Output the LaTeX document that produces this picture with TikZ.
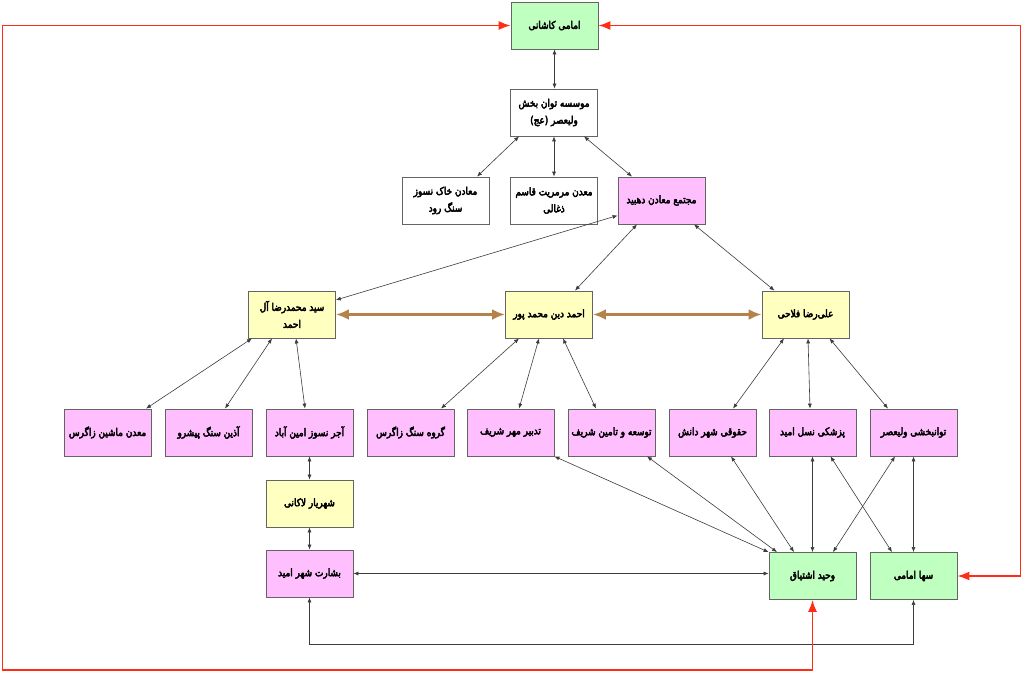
\documentclass[tikz,border=0pt]{standalone}
\usepackage{fontspec}
\usetikzlibrary{arrows.meta}
\TeXXeTstate=1
\newfontfamily\arabicfont[Script=Arabic, FakeBold=4, FakeStretch=0.85]{DejaVu Sans}
\newcommand{\FaTxt}[1]{\beginR #1\endR}
\definecolor{bxgreen}{RGB}{191,255,191}
\definecolor{bxpink}{RGB}{255,191,255}
\definecolor{bxyellow}{RGB}{255,255,191}
\definecolor{bxborder}{RGB}{100,100,100}
\definecolor{lnk}{RGB}{60,60,60}
\definecolor{brownarr}{RGB}{181,131,74}
\definecolor{redarr}{RGB}{255,45,20}
\begin{document}
\begin{tikzpicture}[x=1pt,y=-1pt,
  box/.style={draw=bxborder, line width=0.8pt, minimum width=87pt, minimum height=47pt,
    inner sep=1pt, font=\arabicfont\fontsize{10.5}{17}\selectfont},
  twoline/.style={box, align=center},
  lk/.style={draw=lnk, line width=0.6pt, {Latex[length=5pt,width=4pt]}-{Latex[length=5pt,width=4pt]}},
  tiebrown/.style={draw=brownarr, line width=3pt, {Latex[length=13pt,width=11pt]}-{Latex[length=13pt,width=11pt]}},
  redlk/.style={draw=redarr, line width=1.6pt, {Latex[length=12pt,width=9pt]}-{Latex[length=12pt,width=9pt]}}]
\fill[white] (0,0) rectangle (1024,677);
\useasboundingbox (0,0) rectangle (1024,677);

\node[box, fill=bxgreen] (imam) at (554.5,25.5) {\FaTxt{امامی کاشانی}};
\node[twoline, fill=white] (mov) at (554,112.5) {\FaTxt{موسسه توان بخش}\\\FaTxt{ولیعصر (عج)}};
\node[twoline, fill=white] (khak) at (445.5,200.5) {\FaTxt{معادن خاک نسوز}\\\FaTxt{سنگ رود}};
\node[twoline, fill=white] (marmar) at (554,200.5) {\FaTxt{معدن مرمریت قاسم}\\\FaTxt{ذغالی}};
\node[box, fill=bxpink] (moj) at (661.5,200.5) {\FaTxt{مجتمع معادن دهبید}};

\node[twoline, fill=bxyellow] (seyed) at (292,314.5) {\FaTxt{سید محمدرضا آل}\\\FaTxt{احمد}};
\node[box, fill=bxyellow] (ahmad) at (549,314.5) {\FaTxt{احمد دین محمد پور}};
\node[box, fill=bxyellow] (ali) at (805.5,314.5) {\FaTxt{علی‌رضا فلاحی}};

\node[box, fill=bxpink] (mashin) at (107.5,432.5) {\FaTxt{معدن ماشین زاگرس}};
\node[box, fill=bxpink] (azin) at (208.5,432.5) {\FaTxt{آذین سنگ پیشرو}};
\node[box, fill=bxpink] (ajor) at (309.5,432.5) {\FaTxt{آجر نسوز امین آباد}};
\node[box, fill=bxpink] (gorooh) at (410.5,432.5) {\FaTxt{گروه سنگ زاگرس}};
\node[box, fill=bxpink] (tadbir) at (510.5,432.5) {\FaTxt{تدبیر مهر شریف}};
\node[box, fill=bxpink] (toseeh) at (611.5,432.5) {\FaTxt{توسعه و تامین شریف}};
\node[box, fill=bxpink] (hogh) at (712.5,432.5) {\FaTxt{حقوقی شهر دانش}};
\node[box, fill=bxpink] (pezesh) at (812.5,432.5) {\FaTxt{پزشکی نسل امید}};
\node[box, fill=bxpink] (tavan) at (913.5,432.5) {\FaTxt{توانبخشی ولیعصر}};

\node[box, fill=bxyellow] (shahr) at (309.5,503.5) {\FaTxt{شهریار لاکانی}};
\node[box, fill=bxpink] (besh) at (309.5,573.5) {\FaTxt{بشارت شهر امید}};
\node[box, fill=bxgreen] (vahid) at (812.5,576) {\FaTxt{وحید اشتیاق}};
\node[box, fill=bxgreen] (soha) at (913.5,576) {\FaTxt{سها امامی}};

% top part
\draw[lk] (imam.south) -- (imam.south |- mov.north);
\draw[lk] ([xshift=-35pt]mov.south) -- ([xshift=31.5pt]khak.north);
\draw[lk] (mov.south) -- (marmar.north);
\draw[lk] ([xshift=30pt]mov.south) -- ([xshift=-29.5pt]moj.north);
\draw[lk] ([yshift=-15pt]moj.west) -- ([yshift=14.5pt]seyed.east);
\draw[lk] ([xshift=-24.5pt]moj.south) -- ([xshift=26pt]ahmad.north);
\draw[lk] ([xshift=32.5pt]moj.south) -- ([xshift=-31pt]ali.north);

% brown ties
\draw[tiebrown] (seyed.east) -- (ahmad.west);
\draw[tiebrown] (ahmad.east) -- (ali.west);

% row 3 to row 4
\draw[lk] ([xshift=-40pt]seyed.south) -- ([xshift=38.5pt]mashin.north);
\draw[lk] ([xshift=-20pt]seyed.south) -- ([xshift=16.5pt]azin.north);
\draw[lk] ([xshift=4pt]seyed.south) -- ([xshift=-4.5pt]ajor.north);
\draw[lk] ([xshift=-30pt]ahmad.south) -- ([xshift=30.5pt]gorooh.north);
\draw[lk] ([xshift=-10pt]ahmad.south) -- ([xshift=8.5pt]tadbir.north);
\draw[lk] ([xshift=14pt]ahmad.south) -- ([xshift=-15.5pt]toseeh.north);
\draw[lk] ([xshift=-21.5pt]ali.south) -- ([xshift=20.5pt]hogh.north);
\draw[lk] ([xshift=2.5pt]ali.south) -- ([xshift=-2.5pt]pezesh.north);
\draw[lk] ([xshift=24pt]ali.south) -- ([xshift=-25.5pt]tavan.north);

% left chain
\draw[lk] (ajor.south) -- (shahr.north);
\draw[lk] (shahr.south) -- (besh.north);
\draw[lk] (besh.east) -- (vahid.west |- besh.east);

% into vahid and soha
\draw[lk] (tadbir.south east) -- (vahid.north west);
\draw[lk] ([xshift=35.5pt]toseeh.south) -- ([xshift=-35.5pt]vahid.north);
\draw[lk] ([xshift=18.5pt]hogh.south) -- ([xshift=-18.5pt]vahid.north);
\draw[lk] (pezesh.south) -- (vahid.north);
\draw[lk] ([xshift=-18.5pt]tavan.south) -- ([xshift=20.5pt]vahid.north);
\draw[lk] ([xshift=18pt]pezesh.south) -- ([xshift=-21.5pt]soha.north);
\draw[lk] (tavan.south) -- (soha.north);

% bottom return line
\draw[lk] (besh.south) -- (besh.south |- 0,644) -| (soha.south);

% red loops
\draw[redlk] (imam.west) -- (2.5,25.5) -- (2.5,670) -| (vahid.south);
\draw[redlk] (imam.east) -- (1020.5,25.5) -- (1020.5,576) -- (soha.east);
\end{tikzpicture}
\end{document}
